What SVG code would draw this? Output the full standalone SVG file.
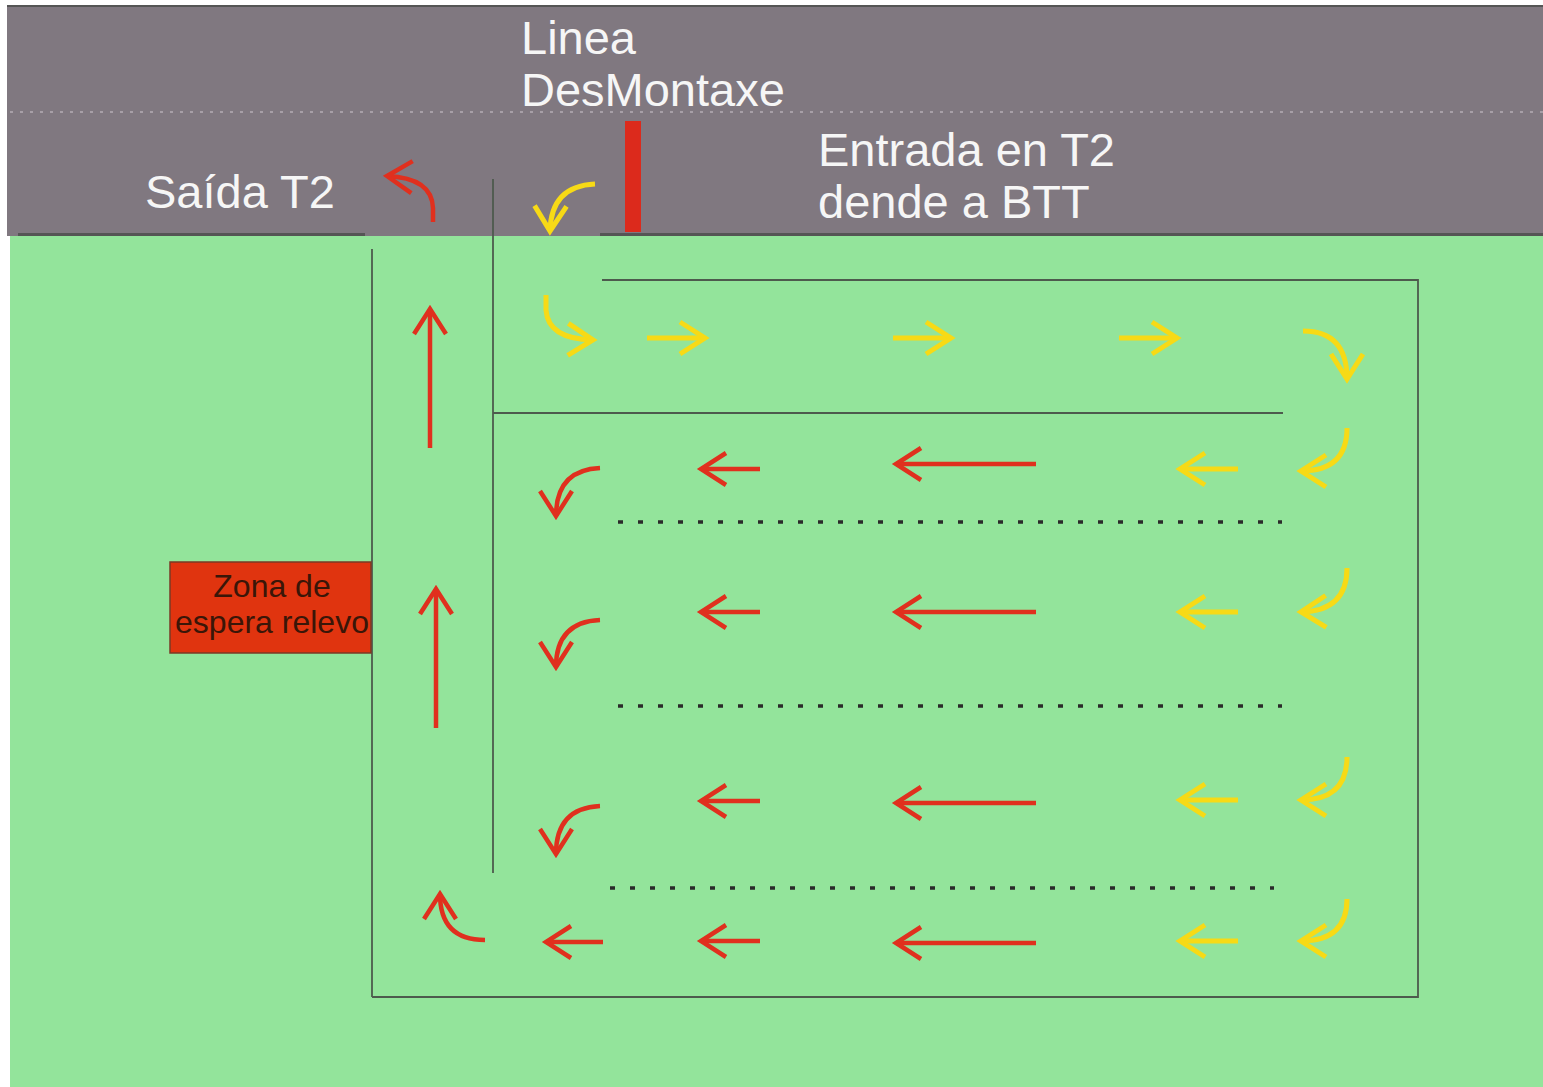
<svg xmlns="http://www.w3.org/2000/svg" width="1543" height="1087" viewBox="0 0 1543 1087">
<style>
.lbl{font-family:"Liberation Sans",Arial,sans-serif;font-size:47px;fill:#f6f6f6}
.box{font-family:"Liberation Sans",Arial,sans-serif;font-size:32px;fill:#3a1608;text-anchor:middle}
.wall{stroke:#4d5a4d;stroke-width:1.8;fill:none}
.dots{stroke:#2a2a2a;stroke-width:3.5;stroke-dasharray:5 15;fill:none}
.r{stroke:#e0301e;stroke-width:4.5;fill:none;marker-end:url(#hr)}
.y{stroke:#f7da16;stroke-width:5;fill:none;marker-end:url(#hy)}
</style>
<defs>
<marker id="hr" markerUnits="userSpaceOnUse" markerWidth="40" markerHeight="40" viewBox="-30 -20 40 40" refX="0" refY="0" orient="auto" overflow="visible">
<path d="M-25,-16 L0,0 L-25,16" fill="none" stroke="#e0301e" stroke-width="4.5"/>
</marker>
<marker id="hy" markerUnits="userSpaceOnUse" markerWidth="40" markerHeight="40" viewBox="-30 -20 40 40" refX="0" refY="0" orient="auto" overflow="visible">
<path d="M-25,-16 L0,0 L-25,16" fill="none" stroke="#f7da16" stroke-width="5"/>
</marker>
</defs>
<rect x="0" y="0" width="1543" height="1087" fill="#ffffff"/>
<g id="header">
<rect x="7" y="6" width="1536" height="230" fill="#807880"/>
<line x1="7" y1="6" x2="1543" y2="6" stroke="#555" stroke-width="2"/>
<line x1="10" y1="112" x2="1543" y2="112" stroke="#b4acb4" stroke-width="1.5" stroke-dasharray="3 7"/>
</g>
<g id="ground">
<rect x="10" y="236" width="1533" height="851" fill="#93e49b"/>
<line x1="18" y1="234.5" x2="365" y2="234.5" stroke="#555" stroke-width="3"/>
<line x1="600" y1="234.5" x2="1543" y2="234.5" stroke="#555" stroke-width="3"/>
</g>
<g id="walls">
<line class="wall" x1="493" y1="179" x2="493" y2="873" stroke="#555" stroke-width="2.5"/>
<line class="wall" x1="372" y1="249" x2="372" y2="997"/>
<polyline class="wall" points="372,997 1418,997 1418,280 602,280"/>
<line class="wall" x1="493" y1="413" x2="1283" y2="413"/>
<line class="dots" x1="618" y1="522" x2="1282" y2="522"/>
<line class="dots" x1="618" y1="706" x2="1282" y2="706"/>
<line class="dots" x1="610" y1="888" x2="1274" y2="888"/>
</g>
<g id="label-linea">
<text class="lbl" x="521" y="54">Linea</text>
<text class="lbl" x="521" y="106">DesMontaxe</text>
</g>
<g id="label-saida">
<text class="lbl" x="145" y="208">Saída T2</text>
</g>
<g id="label-entrada">
<text class="lbl" x="818" y="166">Entrada en T2</text>
<text class="lbl" x="818" y="218">dende a BTT</text>
</g>
<g id="barrier">
<rect x="625" y="121" width="16" height="111" fill="#dc2a1c"/>
</g>
<g id="zona-espera">
<rect x="170" y="562" width="201" height="91" fill="#e0340f" stroke="#7a3a26" stroke-width="1.5"/>
<text class="box" x="272" y="597">Zona de</text>
<text class="box" x="272" y="633">espera relevo</text>
</g>
<g id="connectors">
<path class="r" d="M433,222 L433,208 Q432,178 387,176"/>
<path class="r" d="M430,448 L430,309"/>
<path class="r" d="M436,728 L436,589"/>
<path class="r" d="M485,940 Q440,940 440,894"/>
<path class="y" d="M595,184 Q551,186 550,231"/>
<path class="y" d="M546,295 L546,310 Q548,339 593,340"/>
<path class="y" d="M647,338 L705,338"/>
<path class="y" d="M893,338 L951,338"/>
<path class="y" d="M1119,338 L1177,338"/>
<path class="y" d="M1303,331 Q1347,331 1347,379"/>
<path class="y" d="M1347,428 Q1347,471 1301,471"/>
<path class="y" d="M1238,469 L1180,469"/>
<path class="r" d="M1036,464 L896,464"/>
<path class="r" d="M760,469 L701,469"/>
<path class="r" d="M600,468 Q556,470 556,516"/>
<path class="y" d="M1347,568 Q1347,611 1301,612"/>
<path class="y" d="M1238,612 L1180,612"/>
<path class="r" d="M1036,612 L896,612"/>
<path class="r" d="M760,612 L701,612"/>
<path class="r" d="M600,620 Q556,622 556,667"/>
<path class="y" d="M1347,757 Q1347,800 1301,800"/>
<path class="y" d="M1238,800 L1180,800"/>
<path class="r" d="M1036,803 L896,803"/>
<path class="r" d="M760,801 L701,801"/>
<path class="r" d="M600,806 Q556,808 556,854"/>
<path class="y" d="M1347,899 Q1347,941 1301,941"/>
<path class="y" d="M1238,941 L1180,941"/>
<path class="r" d="M1036,943 L896,943"/>
<path class="r" d="M760,941 L701,941"/>
<path class="r" d="M603,942 L546,942"/>
</g>
</svg>
